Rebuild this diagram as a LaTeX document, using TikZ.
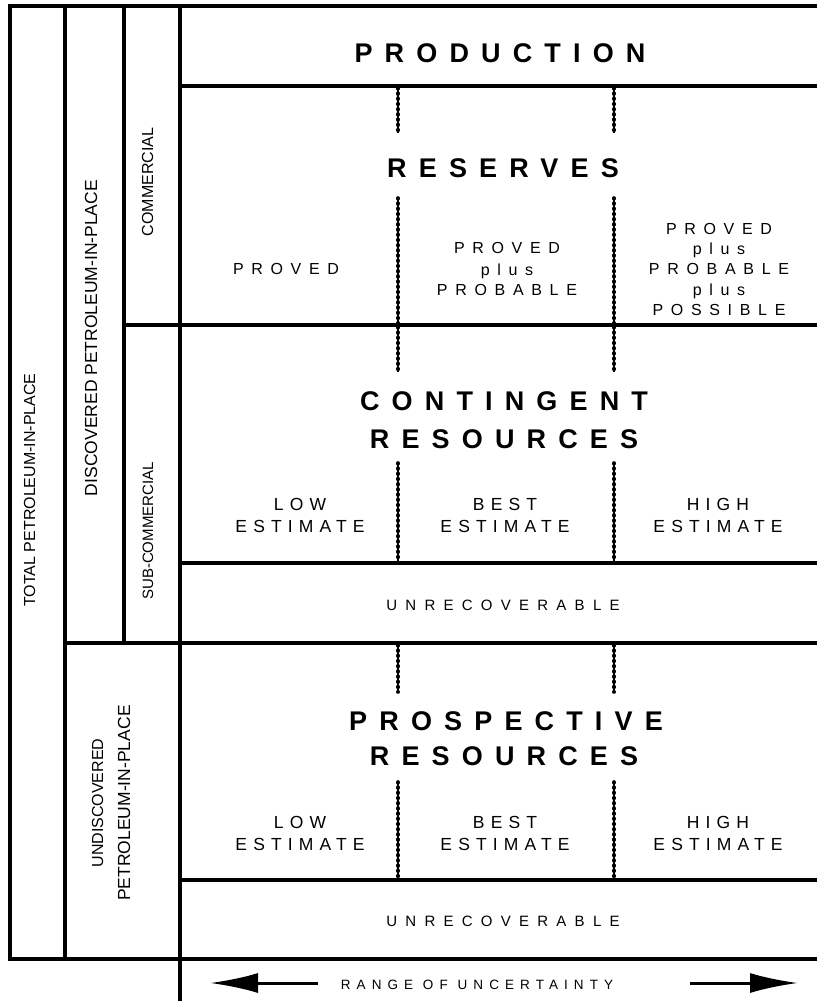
\documentclass[tikz,border=0pt]{standalone}
\usepackage{fontspec}
\setmainfont{Liberation Sans}
\usetikzlibrary{arrows.meta}

\tikzset{
  frame/.style={line width=3.2pt, line join=miter},
  divider/.style={line width=1.4pt, postaction={draw, line width=3.6pt, line cap=round, dash pattern=on 0.8pt off 4.4pt}},
  bigtitle/.style={anchor=base, inner sep=0pt, font=\fontsize{27}{32}\selectfont\bfseries\addfontfeature{LetterSpace=45}},
  caption/.style={anchor=base, inner sep=0pt, font=\fontsize{16}{20}\selectfont\addfontfeature{LetterSpace=48}},
  estimate/.style={anchor=base, inner sep=0pt, font=\fontsize{17.5}{21}\selectfont\addfontfeature{LetterSpace=35}},
  unrec/.style={anchor=base, inner sep=0pt, font=\fontsize{15}{18}\selectfont\addfontfeature{LetterSpace=55}},
  sidetext/.style={anchor=base, rotate=90, inner sep=0pt, font=\fontsize{16}{19}\selectfont},
  bigarrow/.style={line width=3pt, -{Latex[length=48pt,width=20pt]}}
}

\begin{document}
\begin{tikzpicture}[x=1pt,y=-1pt]
\useasboundingbox (0,0) rectangle (817,1001);

% frame and rows
\draw[frame] (817,6) -- (10,6) -- (10,959) -- (817,959);
\draw[frame] (65,6) -- (65,959);
\draw[frame] (124,6) -- (124,643);
\draw[frame] (180,6) -- (180,1001);
\draw[frame] (180,86) -- (817,86);
\draw[frame] (122,325) -- (817,325);
\draw[frame] (180,563) -- (817,563);
\draw[frame] (65,643) -- (817,643);
\draw[frame] (180,880) -- (817,880);

% dotted splits
\draw[divider] (398,88) -- (398,133);
\draw[divider] (398,198) -- (398,323);
\draw[divider] (614,88) -- (614,133);
\draw[divider] (614,198) -- (614,323);
\draw[divider] (398,327) -- (398,372);
\draw[divider] (398,463) -- (398,561);
\draw[divider] (614,327) -- (614,372);
\draw[divider] (614,463) -- (614,561);
\draw[divider] (398,645) -- (398,692);
\draw[divider] (398,782) -- (398,878);
\draw[divider] (614,645) -- (614,692);
\draw[divider] (614,782) -- (614,878);

% side labels
\node[sidetext] (total) at (35,490) {TOTAL PETROLEUM-IN-PLACE};
\node[sidetext, font=\fontsize{17.5}{19}\selectfont] (discovered) at (97,338) {DISCOVERED PETROLEUM-IN-PLACE};
\node[sidetext] (commercial) at (153,182) {COMMERCIAL};
\node[sidetext, font=\fontsize{15}{19}\selectfont] (subcommercial) at (153,531) {SUB-COMMERCIAL};
\node[sidetext] (undiscovered) at (103,803) {UNDISCOVERED};
\node[sidetext, font=\fontsize{17.5}{19}\selectfont] (undiscoveredb) at (130,803) {PETROLEUM-IN-PLACE};

% production and reserves
\node[bigtitle] (production) at (500,62) {PRODUCTION};
\node[bigtitle] (reserves) at (503,177) {RESERVES};
\node[caption] (provedA) at (286,274) {PROVED};
\node[caption] (provedB) at (507,253) {PROVED};
\node[caption] (plusB) at (507,275) {plus};
\node[caption] (probableB) at (507,295) {PROBABLE};
\node[caption] (provedC) at (719,234) {PROVED};
\node[caption] (plusC) at (719,254) {plus};
\node[caption] (probableC) at (719,274) {PROBABLE};
\node[caption] (plusCC) at (719,295) {plus};
\node[caption] (possibleC) at (719,315) {POSSIBLE};

% contingent resources
\node[bigtitle] (contingent) at (504,410) {CONTINGENT};
\node[bigtitle] (contres) at (504,448) {RESOURCES};
\node[estimate] (lowA) at (300,510) {LOW};
\node[estimate] (lowestA) at (300,532) {ESTIMATE};
\node[estimate] (bestA) at (505,510) {BEST};
\node[estimate] (bestestA) at (505,532) {ESTIMATE};
\node[estimate] (highA) at (718,510) {HIGH};
\node[estimate] (highestA) at (718,532) {ESTIMATE};
\node[unrec] (unrecA) at (503,610) {UNRECOVERABLE};

% prospective resources
\node[bigtitle] (prospective) at (506,730) {PROSPECTIVE};
\node[bigtitle] (prosres) at (504,765) {RESOURCES};
\node[estimate] (lowB) at (300,828) {LOW};
\node[estimate] (lowestB) at (300,850) {ESTIMATE};
\node[estimate] (bestB) at (505,828) {BEST};
\node[estimate] (bestestB) at (505,850) {ESTIMATE};
\node[estimate] (highB) at (718,828) {HIGH};
\node[estimate] (highestB) at (718,850) {ESTIMATE};
\node[unrec] (unrecB) at (503,926) {UNRECOVERABLE};

% range of uncertainty
\node[unrec, font=\fontsize{13.5}{16}\selectfont\addfontfeature{LetterSpace=45}] (range) at (477,989) {RANGE OF UNCERTAINTY};
\coordinate (lefttail) at (318,983);
\coordinate (lefttip) at (210,983);
\coordinate (righttail) at (690,983);
\coordinate (righttip) at (798,983);
\draw[bigarrow] (lefttail) -- (lefttip);
\draw[bigarrow] (righttail) -- (righttip);
\end{tikzpicture}
\end{document}
